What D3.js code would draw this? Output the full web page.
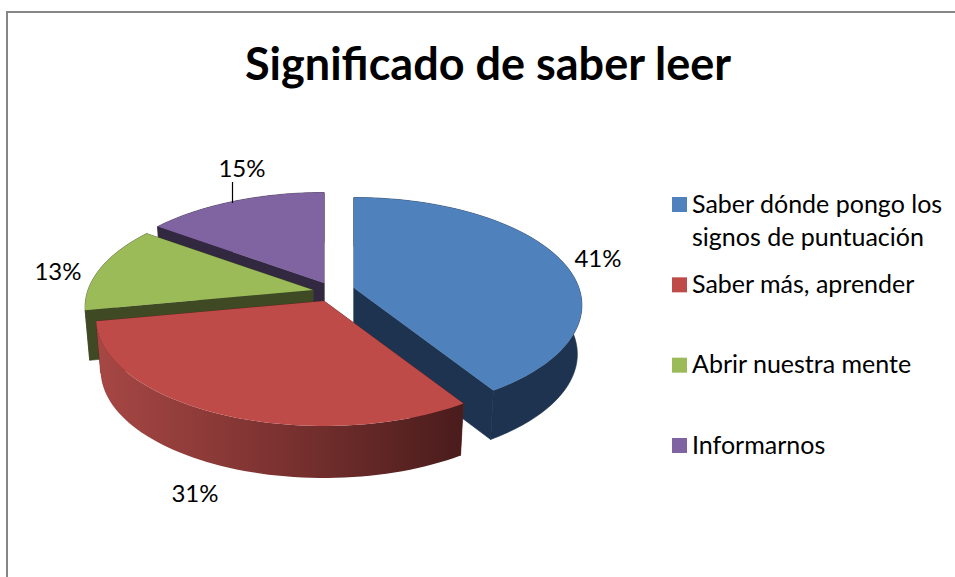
<!DOCTYPE html>
<html>
<head>
<meta charset="utf-8">
<script src="https://cdn.jsdelivr.net/npm/d3@7/dist/d3.min.js"></script>
<style>
html,body{margin:0;padding:0;background:#fff;overflow:hidden}
svg{display:block}
text{font-family:Lato,"Open Sans",sans-serif;fill:#000}
</style>
</head>
<body>
<svg id="c" width="955" height="577"></svg>
<script>
// ---- data ----
const titleText = "Significado de saber leer";
const categories = ["Saber dónde pongo los signos de puntuación","Saber más, aprender","Abrir nuestra mente","Informarnos"];
const values = [41, 31, 13, 15];
const valueLabels = ["41%", "31%", "13%", "15%"];
const legendLines = [["Saber dónde pongo los","signos de puntuación"],["Saber más, aprender"],["Abrir nuestra mente"],["Informarnos"]];

// ---- styles and layout ----
const topColors = ["#4F81BD", "#BE4B48", "#9BBB59", "#8064A2"];
const sideColors = ["#1D334F", "#5a2220", "#3F4A24", "#32283F"];
const apexes = [[354, 288], [324, 301], [313, 290], [324, 283]];
const labelAt = [[598, 267], [195, 502], [58, 280], [242, 177]];
const R = 225, A = 105, C = 0.16, DEPTH = 50, SHRINK = 0.98;
const depths = [49, 52, 50, 50];

const svg = d3.select("#c");
const color = d3.scaleOrdinal(categories, topColors);
const side = d3.scaleOrdinal(categories, sideColors);

// frame
svg.append("path").attr("d", "M7,577V12H955").attr("fill", "none").attr("stroke", "#868686").attr("stroke-width", 2);

// title
svg.append("text").attr("x", 488).attr("y", 80).attr("text-anchor", "middle")
  .attr("font-size", 45).attr("font-weight", 700).text(titleText);

// gradient on the front slice's rim
const grad = svg.append("defs").append("linearGradient").attr("id", "rim")
  .attr("gradientUnits", "userSpaceOnUse").attr("x1", 100).attr("x2", 462).attr("y1", 0).attr("y2", 0);
grad.append("stop").attr("offset", 0).attr("stop-color", "#a64744");
grad.append("stop").attr("offset", 0.5).attr("stop-color", "#7b3230");
grad.append("stop").attr("offset", 1).attr("stop-color", "#4a1c1c");

// disc-to-screen projection with perspective
function proj(theta, apex, depth) {
  const u = Math.sin(theta), v = -Math.cos(theta), w = 1 - C * v;
  const k = depth ? SHRINK : 1;
  return [apex[0] + k * R * u / w, apex[1] + A * v / w + depth];
}
const line = d3.line();
const pie = d3.pie().sort(null).value(d => d.value)(categories.map((c, i) => ({c, value: values[i], i})));

const g = svg.append("g");
// back to front
[3, 2, 0, 1].forEach(idx => {
  const s = pie[idx], i = s.data.i, a = apexes[i], dp = depths[i];
  const steps = d3.range(0, 61).map(t => s.startAngle + (s.endAngle - s.startAngle) * t / 60);
  const upper = steps.map(t => proj(t, a, 0));
  const lower = steps.map(t => proj(t, a, dp));
  const apexLow = [a[0], a[1] + dp];
  const dark = side(s.data.c);
  // radial faces
  [[a, upper[0], lower[0], apexLow], [a, upper[60], lower[60], apexLow]].forEach(q => {
    g.append("path").attr("d", line(q) + "Z").attr("fill", dark).attr("stroke", dark).attr("stroke-width", 0.6);
  });
  // outer rim
  g.append("path").attr("d", line(upper.concat(lower.slice().reverse())) + "Z")
    .attr("fill", i === 1 ? "url(#rim)" : dark)
    .attr("stroke", i === 1 ? "none" : dark).attr("stroke-width", 0.6);
  // top
  g.append("path").attr("d", line([a].concat(upper)) + "Z").attr("fill", color(s.data.c));
});

// leader for the top label
svg.append("path").attr("d", "M232.5,182V203").attr("stroke", "#000").attr("stroke-width", 1.2);

// value labels
svg.append("g").selectAll("text").data(valueLabels).join("text")
  .attr("x", (d, i) => labelAt[i][0]).attr("y", (d, i) => labelAt[i][1])
  .attr("text-anchor", "middle").attr("font-size", 24).text(d => d);

// legend
const ly = d3.scalePoint().domain(categories).range([204.5, 445.5]);
const leg = svg.append("g").selectAll("g").data(categories).join("g")
  .attr("transform", d => `translate(672,${ly(d)})`);
leg.append("rect").attr("y", -7.5).attr("width", 15).attr("height", 15).attr("fill", d => color(d));
leg.selectAll("text").data((d, i) => legendLines[i]).join("text")
  .attr("x", 20).attr("y", (d, j) => 8 + j * 33).attr("font-size", 25).text(d => d);
</script>
</body>
</html>
